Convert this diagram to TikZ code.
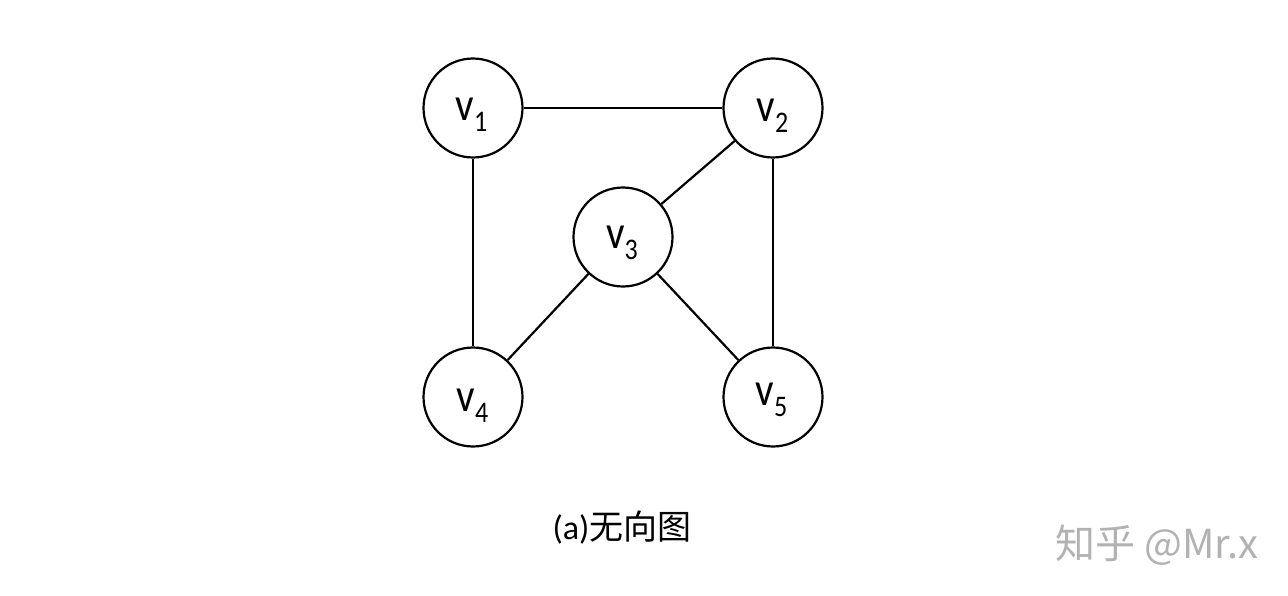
\documentclass[tikz,border=0pt]{standalone}
\usepackage{fontspec}
\usepackage{graphicx}
\setmainfont{Carlito}
\newfontfamily\cjk{Noto Sans CJK SC}
\newcommand\vlab[1]{\scalebox{1}[1.15]{\fontsize{41}{41}\selectfont v}\raisebox{-11pt}{\scalebox{1}[1.15]{\fontsize{26}{26}\selectfont #1}}}
\begin{document}
\begin{tikzpicture}[x=1pt,y=-1pt,
  vnode/.style={circle,draw,line width=2.2pt,minimum size=99pt,inner sep=0pt},
  vtext/.style={inner sep=0pt,anchor=center},
  edge/.style={line width=2.2pt}]
\useasboundingbox (0,0) rectangle (1288,596);
\node[vnode] (v1) at (473,108) {};
\node[vnode] (v2) at (773,108) {};
\node[vnode] (v3) at (623,237) {};
\node[vnode] (v4) at (473,397) {};
\node[vnode] (v5) at (773,397) {};
\node[vtext] (t1) at (471.5,114.5) {\vlab{1}};
\node[vtext] (t2) at (772.5,116) {\vlab{2}};
\node[vtext] (t3) at (622,242.5) {\vlab{3}};
\node[vtext] (t4) at (472.5,406) {\vlab{4}};
\node[vtext] (t5) at (771.5,400) {\vlab{5}};
\draw[edge] (v1) -- (v2);
\draw[edge] (v1) -- (v4);
\draw[edge] (v2) -- (v3);
\draw[edge] (v2) -- (v5);
\draw[edge] (v3) -- (v4);
\draw[edge] (v3) -- (v5);
\node (cap) at (622,528) {\fontsize{34}{34}\selectfont (a)\cjk 无向图};
\node[text=black!30] (wm) at (1157,545) {\fontsize{40}{40}\selectfont\cjk 知乎 @Mr.x};
\end{tikzpicture}
\end{document}
